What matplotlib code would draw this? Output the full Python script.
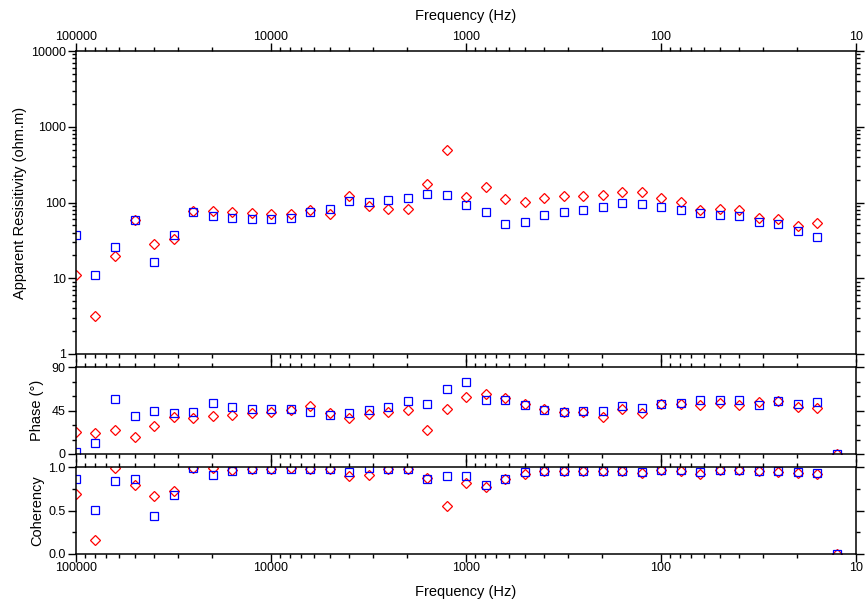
import numpy as np
import matplotlib
matplotlib.use("Agg")
import matplotlib.pyplot as plt
import matplotlib.ticker as mticker

plt.rcParams['font.family'] = ['Liberation Sans', 'DejaVu Sans']

# frequencies, 10 per decade from 100 kHz down to ~12.6 Hz
freq = 10.0 ** (5 - np.arange(40) / 10.0)

# apparent resistivity (ohm.m); last frequency has no value
rho_xy = [37.8, 10.9, 25.6, 59.4, 16.3, 37.0, 75.0, 65.8, 63.0, 60.7,
          61.0, 62.5, 74.0, 83.0, 105, 103, 107, 113, 128, 126,
          94.0, 74.0, 52.0, 54.8, 67.8, 74.3, 78.9, 87.3, 97.6, 95.6,
          87.0, 80.5, 72.0, 68.4, 65.8, 54.8, 52.0, 42.0, 34.7, np.nan]
rho_yx = [10.9, 3.18, 19.9, 59.0, 28.6, 33.4, 77.0, 77.0, 74.0, 73.0,
          71.0, 71.0, 79.0, 70.6, 123, 91.0, 81.0, 83.0, 174, 499,
          118, 162, 110, 102, 115, 121, 121, 124, 137, 136,
          113, 101, 79.7, 81.0, 78.9, 62.5, 61.0, 48.5, 54.2, np.nan]

# phase (degrees)
phs_xy = [2.1, 11.8, 56.6, 39.6, 44.8, 42.4, 43.4, 52.5, 49.0, 46.6,
          46.2, 46.2, 43.1, 40.7, 42.4, 45.2, 49.0, 54.9, 51.4, 67.0,
          74.0, 56.0, 56.0, 51.0, 45.9, 43.4, 44.5, 44.5, 49.7, 47.3,
          51.4, 52.5, 56.3, 56.0, 55.6, 50.4, 55.3, 51.4, 53.9, 0.0]
phs_yx = [22.9, 22.2, 24.7, 17.7, 28.5, 38.6, 36.8, 39.3, 40.0, 42.4,
          43.4, 45.2, 49.3, 42.7, 37.2, 41.0, 43.4, 45.2, 24.7, 46.6,
          58.7, 62.2, 57.7, 51.8, 46.6, 43.4, 43.8, 37.9, 46.2, 42.7,
          52.1, 52.1, 50.4, 53.2, 51.1, 53.9, 54.6, 48.6, 48.0, 0.0]

# coherency
coh_xy = [0.866, 0.51, 0.839, 0.858, 0.437, 0.678, 0.985, 0.904, 0.954, 0.973,
          0.973, 0.98, 0.98, 0.98, 0.943, 0.99, 0.98, 0.98, 0.862, 0.90,
          0.893, 0.797, 0.858, 0.943, 0.958, 0.958, 0.958, 0.95, 0.954, 0.946,
          0.97, 0.962, 0.943, 0.97, 0.962, 0.95, 0.95, 0.939, 0.931, 0.0]
coh_yx = [0.69, 0.157, 0.99, 0.797, 0.667, 0.72, 0.99, 0.99, 0.96, 0.973,
          0.973, 0.985, 0.973, 0.977, 0.90, 0.904, 0.98, 0.98, 0.877, 0.552,
          0.816, 0.77, 0.862, 0.923, 0.958, 0.958, 0.958, 0.95, 0.95, 0.935,
          0.97, 0.958, 0.92, 0.97, 0.962, 0.95, 0.943, 0.935, 0.923, 0.0]

W, H = 867, 603
fig = plt.figure(figsize=(W / 100, H / 100), dpi=100)

def box(top, bottom):
    return [76 / W, 1 - bottom / H, (856 - 76) / W, (bottom - top) / H]

ax1 = fig.add_axes(box(51, 354))
ax2 = fig.add_axes(box(367, 454))
ax3 = fig.add_axes(box(467, 554))

sq = dict(ls='none', marker='s', ms=6.2, mfc='none', mec='#0000ff', mew=0.9)
dm = dict(ls='none', marker='D', ms=5.5, mfc='none', mec='#ff0000', mew=0.9)

ax1.plot(freq, rho_yx, **dm)
ax1.plot(freq, rho_xy, **sq)
ax2.plot(freq, phs_yx, **dm)
ax2.plot(freq, phs_xy, **sq)
ax3.plot(freq, coh_yx, **dm)
ax3.plot(freq, coh_xy, **sq)

xticks = [100000, 10000, 1000, 100, 10]
for ax in (ax1, ax2, ax3):
    ax.set_xscale('log')
    ax.set_xlim(100000, 10)
    ax.set_xticks(xticks)
    ax.xaxis.set_minor_locator(mticker.LogLocator(base=10, subs=np.arange(2, 10)))
    ax.xaxis.set_minor_formatter(mticker.NullFormatter())
    ax.tick_params(which='both', direction='out', top=True, right=True,
                   labelsize=9, width=1, colors='black')
    ax.tick_params(axis='x', pad=0.5)
    ax.tick_params(axis='y', pad=2)
    ax.tick_params(which='major', length=5.5)
    ax.tick_params(which='minor', length=3)
    ax.tick_params(labelbottom=False, labeltop=False)
    for s in ax.spines.values():
        s.set_linewidth(1.1)

ax1.set_yscale('log')
ax1.set_ylim(1, 10000)
ax1.set_yticks([1, 10, 100, 1000, 10000])
ax1.yaxis.set_major_formatter(mticker.FuncFormatter(lambda v, p: '%d' % v))
ax1.yaxis.set_minor_locator(mticker.LogLocator(base=10, subs=np.arange(2, 10)))
ax1.yaxis.set_minor_formatter(mticker.NullFormatter())
ax1.tick_params(labeltop=True)
ax1.xaxis.set_major_formatter(mticker.FuncFormatter(lambda v, p: '%d' % v))
ax1.xaxis.set_label_position('top')
ax1.set_xlabel('Frequency (Hz)', fontsize=10.5, labelpad=8)
ax1.set_ylabel('Apparent Resisitivity (ohm.m)', fontsize=10.5)
ax1.yaxis.set_label_coords(-0.063, 0.5)

ax2.set_ylim(0, 90)
ax2.set_yticks([0, 45, 90])
ax2.yaxis.set_minor_locator(mticker.MultipleLocator(15))
ax2.set_ylabel('Phase (°)', fontsize=10.5)
ax2.yaxis.set_label_coords(-0.041, 0.5)

ax3.set_ylim(0, 1)
ax3.set_yticks([0, 0.5, 1.0])
ax3.yaxis.set_major_formatter(mticker.FormatStrFormatter('%.1f'))
ax3.yaxis.set_minor_locator(mticker.MultipleLocator(0.25))
ax3.tick_params(labelbottom=True)
ax3.xaxis.set_major_formatter(mticker.FuncFormatter(lambda v, p: '%d' % v))
ax3.set_xlabel('Frequency (Hz)', fontsize=10.5, labelpad=8)
ax3.set_ylabel('Coherency', fontsize=10.5)
ax3.yaxis.set_label_coords(-0.041, 0.5)

fig.savefig('out.png', dpi=100)
